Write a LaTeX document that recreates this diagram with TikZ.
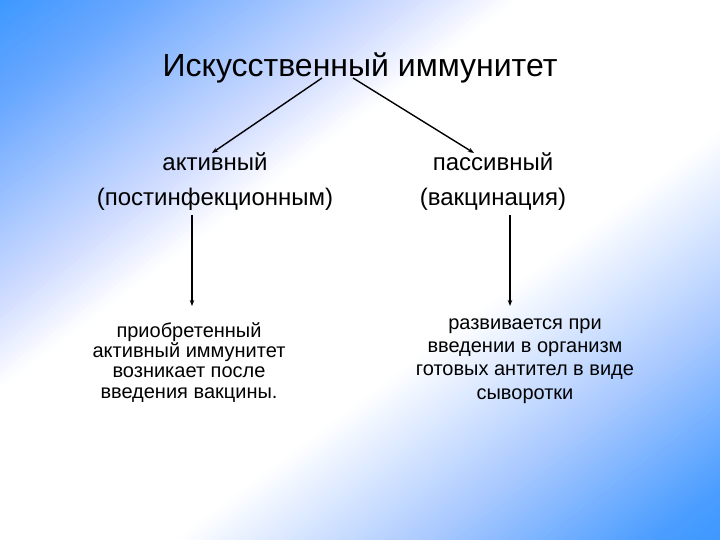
\documentclass[tikz,border=0pt]{standalone}
\usepackage{fontspec}
\setmainfont{Liberation Sans}
\usetikzlibrary{arrows.meta}
\definecolor{gA}{RGB}{61,152,255}
\definecolor{gB}{RGB}{106,168,255}
\definecolor{gC}{RGB}{208,220,255}
\definecolor{gD}{RGB}{168,200,255}
\definecolor{gE}{RGB}{76,158,255}
% gradient strip along t=(u+v)/2 in normalized slide coordinates
\newcommand\gseg[5]{%
  \foreach \k in {1,...,#5}{%
    \pgfmathsetmacro\pa{2*(#1+(#2-#1)*(\k-1)/#5)}%
    \pgfmathsetmacro\pb{2*(#1+(#2-#1)*\k/#5)+0.002}%
    \pgfmathsetmacro\pc{100*(\k-0.5)/#5}%
    \fill[#4!\pc!#3] (\pa+1,-1) -- (-1,\pa+1) -- (-1,\pb+1) -- (\pb+1,-1) -- cycle;
  }}
\tikzset{
  lbl/.style={inner sep=0pt, align=center, text=black},
  arr/.style={line width=1.4bp, -{Stealth[length=6bp,width=4.5bp]}}
}
\begin{document}
\begin{tikzpicture}[x=1bp,y=-1bp]
\useasboundingbox (0,0) rectangle (720,540);
\begin{scope}
  \clip (0,0) rectangle (720,540);
  \begin{scope}[x=720bp,y=-540bp]
    \gseg{0}{0.1}{gA}{gB}{20}
    \gseg{0.1}{0.28}{gB}{gC}{36}
    \gseg{0.28}{0.36}{gC}{white}{16}
    \gseg{0.36}{0.62}{white}{white}{1}
    \gseg{0.62}{0.8}{white}{gD}{36}
    \gseg{0.8}{0.95}{gD}{gE}{30}
    \gseg{0.95}{1.0}{gE}{gA}{10}
  \end{scope}
\end{scope}

\node[lbl, anchor=base, font=\fontsize{32bp}{36bp}\selectfont] (title) at (360,77) {Искусственный иммунитет};

\node[lbl, anchor=base, font=\fontsize{24bp}{35bp}\selectfont] (act) at (215,206) {активный\\(постинфекционным)};
\node[lbl, anchor=base, font=\fontsize{24bp}{35bp}\selectfont] (pas) at (493,206) {пассивный\\(вакцинация)};

\node[lbl, anchor=base, font=\fontsize{20bp}{20.3bp}\selectfont] (bl) at (189,398) {приобретенный\\активный иммунитет\\возникает после\\введения вакцины.};
\node[lbl, anchor=base, font=\fontsize{20bp}{23.3bp}\selectfont] (br) at (525,399) {развивается при\\введении в организм\\готовых антител в виде\\сыворотки};

\coordinate (t1) at (322,78);
\coordinate (t2) at (353,78);
\coordinate (a1) at (212,153);
\coordinate (p1) at (474,153);
\coordinate (a2) at (192,215);
\coordinate (b1) at (192,306);
\coordinate (p2) at (510,215);
\coordinate (b2) at (510,306);

\draw[arr] (t1) -- (a1);
\draw[arr] (t2) -- (p1);
\draw[arr] (a2) -- (b1);
\draw[arr] (p2) -- (b2);
\end{tikzpicture}
\end{document}
